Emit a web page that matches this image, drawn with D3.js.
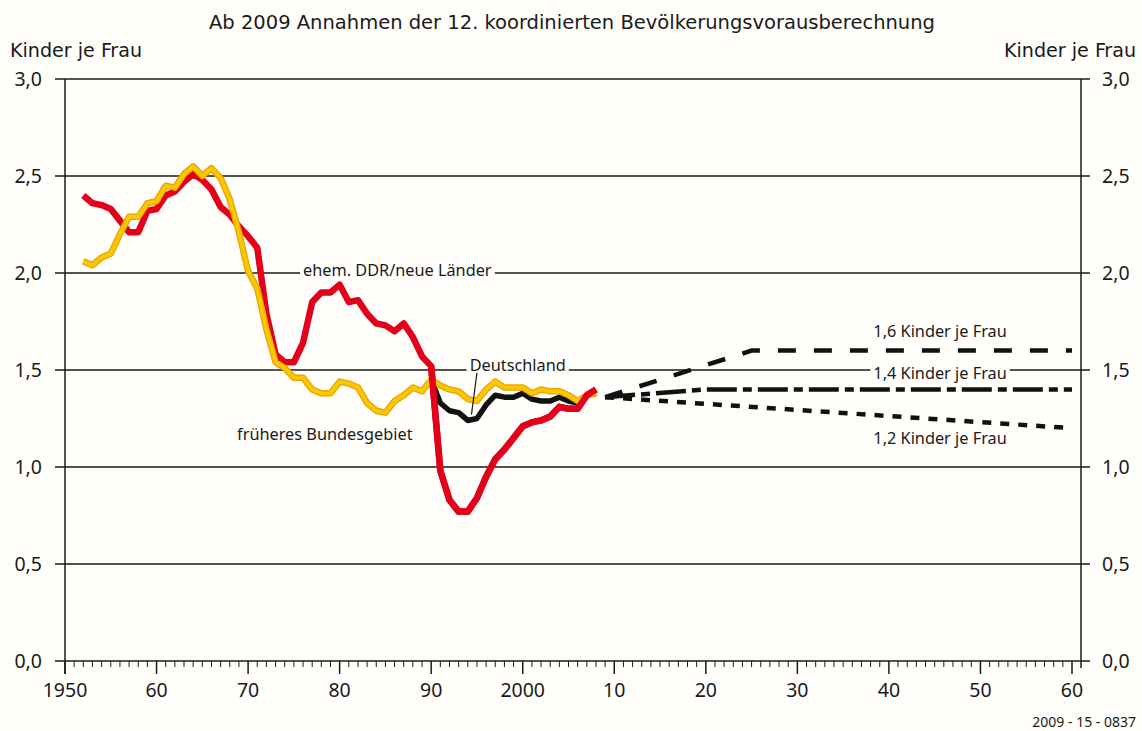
<!DOCTYPE html>
<html>
<head>
<meta charset="utf-8">
<script src="https://cdn.jsdelivr.net/npm/d3@7"></script>
<style>
  body { margin: 0; background: #fffefa; }
  svg { display: block; }
  text { font-family: "Noto Sans", sans-serif; fill: #1a1a1a; }
  .cond { font-family: "Liberation Sans Narrow", "DejaVu Sans Condensed", "Noto Sans", sans-serif; }
</style>
</head>
<body>
<svg id="chart" width="1142" height="731"></svg>
<script>
// years 1952..2008
const years = [1952, 1953, 1954, 1955, 1956, 1957, 1958, 1959, 1960, 1961, 1962, 1963, 1964, 1965,
  1966, 1967, 1968, 1969, 1970, 1971, 1972, 1973, 1974, 1975, 1976, 1977, 1978, 1979, 1980,
  1981, 1982, 1983, 1984, 1985, 1986, 1987, 1988, 1989, 1990, 1991, 1992, 1993, 1994, 1995,
  1996, 1997, 1998, 1999, 2000, 2001, 2002, 2003, 2004, 2005, 2006, 2007, 2008];

// ehem. DDR / neue Länder
const eastValues = [2.40, 2.36, 2.35, 2.33, 2.27, 2.21, 2.21, 2.32, 2.33, 2.40, 2.42, 2.47, 2.51, 2.48,
  2.43, 2.34, 2.30, 2.24, 2.19, 2.13, 1.79, 1.58, 1.54, 1.54, 1.64, 1.85, 1.90, 1.90, 1.94,
  1.85, 1.86, 1.79, 1.74, 1.73, 1.70, 1.74, 1.67, 1.57, 1.52, 0.98, 0.83, 0.77, 0.77, 0.84,
  0.95, 1.04, 1.09, 1.15, 1.21, 1.23, 1.24, 1.26, 1.31, 1.30, 1.30, 1.37, 1.40];

// früheres Bundesgebiet
const westValues = [2.06, 2.04, 2.08, 2.10, 2.20, 2.29, 2.29, 2.36, 2.37, 2.45, 2.44, 2.51, 2.55, 2.50,
  2.54, 2.49, 2.38, 2.21, 2.01, 1.92, 1.71, 1.54, 1.51, 1.46, 1.46, 1.40, 1.38, 1.38, 1.44,
  1.43, 1.41, 1.33, 1.29, 1.28, 1.34, 1.37, 1.41, 1.39, 1.45, 1.42, 1.40, 1.39, 1.35, 1.34,
  1.40, 1.44, 1.41, 1.41, 1.41, 1.38, 1.40, 1.39, 1.39, 1.37, 1.34, 1.37, 1.38];

// Deutschland
const germanyYears = [1990, 1991, 1992, 1993, 1994, 1995, 1996, 1997, 1998, 1999, 2000, 2001, 2002,
  2003, 2004, 2005, 2006, 2007, 2008];
const germanyValues = [1.45, 1.33, 1.29, 1.28, 1.24, 1.25, 1.32, 1.37, 1.36, 1.36, 1.38, 1.35, 1.34,
  1.34, 1.36, 1.34, 1.33, 1.37, 1.38];

// Annahmen ab 2009
const proj16Years = [2009, 2025, 2060];
const proj16Values = [1.36, 1.60, 1.60];
const proj14Years = [2009, 2020, 2060];
const proj14Values = [1.36, 1.40, 1.40];
const proj12Years = [2009, 2060];
const proj12Values = [1.36, 1.20];

const yTicks = [0, 0.5, 1, 1.5, 2, 2.5, 3];
const yTickLabels = ["0,0", "0,5", "1,0", "1,5", "2,0", "2,5", "3,0"];
const xTickYears = [1950, 1960, 1970, 1980, 1990, 2000, 2010, 2020, 2030, 2040, 2050, 2060];
const xTickLabels = ["1950", "60", "70", "80", "90", "2000", "10", "20", "30", "40", "50", "60"];

const svg = d3.select("#chart");
const bg = "#fffefa";
svg.append("rect").attr("width", 1142).attr("height", 731).attr("fill", bg);

const x = d3.scaleLinear().domain([1950, 2060]).range([65, 1072]);
const y = d3.scaleLinear().domain([0, 3]).range([661, 79]);

const zip = (xs, vs) => xs.map((yr, i) => ({ year: yr, value: vs[i] }));
const line = d3.line().x((d) => x(d.year)).y((d) => y(d.value));

// Title + axis titles
svg.append("text")
  .attr("class", "cond")
  .attr("x", 209).attr("y", 29)
  .attr("font-size", 19)
  .attr("textLength", 726).attr("lengthAdjust", "spacingAndGlyphs")
  .text("Ab 2009 Annahmen der 12. koordinierten Bevölkerungsvorausberechnung");

svg.append("text").attr("class", "cond")
  .attr("x", 10).attr("y", 57).attr("font-size", 19)
  .attr("textLength", 132).attr("lengthAdjust", "spacingAndGlyphs")
  .text("Kinder je Frau");
svg.append("text").attr("class", "cond")
  .attr("x", 1004).attr("y", 57).attr("font-size", 19)
  .attr("textLength", 132).attr("lengthAdjust", "spacingAndGlyphs")
  .text("Kinder je Frau");

// Horizontal grid lines + y labels
const grid = svg.append("g");
grid.selectAll("line").data(yTicks).enter().append("line")
  .attr("x1", 55).attr("x2", 1090)
  .attr("y1", (d) => y(d)).attr("y2", (d) => y(d))
  .attr("stroke", "#1a1a1a").attr("stroke-width", 1.3);

yTicks.forEach((t, i) => {
  svg.append("text").attr("x", 42).attr("y", y(t)).attr("dy", "0.35em")
    .attr("text-anchor", "end").attr("font-size", 19.5).text(yTickLabels[i]);
  svg.append("text").attr("x", 1102).attr("y", y(t)).attr("dy", "0.35em")
    .attr("text-anchor", "start").attr("font-size", 19.5).text(yTickLabels[i]);
});

// Vertical axes
svg.append("line").attr("x1", x(1950)).attr("x2", x(1950))
  .attr("y1", y(3)).attr("y2", y(0) + 13)
  .attr("stroke", "#1a1a1a").attr("stroke-width", 1.5);
svg.append("line").attr("x1", 1081).attr("x2", 1081)
  .attr("y1", y(3)).attr("y2", y(0) + 7)
  .attr("stroke", "#1a1a1a").attr("stroke-width", 1.5);

// x ticks: minor yearly, major every decade
const minor = d3.range(1950, 2061);
svg.append("g").selectAll("line").data(minor).enter().append("line")
  .attr("x1", (d) => x(d)).attr("x2", (d) => x(d))
  .attr("y1", y(0)).attr("y2", (d) => y(0) + (d % 10 === 0 ? 13 : 6))
  .attr("stroke", "#1a1a1a").attr("stroke-width", (d) => (d % 10 === 0 ? 1.5 : 1));

xTickYears.forEach((yr, i) => {
  svg.append("text").attr("x", x(yr)).attr("y", 697)
    .attr("text-anchor", "middle").attr("font-size", 19.5).text(xTickLabels[i]);
});

// Labels that break a grid line get a background patch
function label(txt, yr, val, dy, onGrid) {
  const t = svg.append("text")
    .attr("x", x(yr)).attr("y", y(val)).attr("dy", dy)
    .attr("font-size", 16.3).text(txt);
  if (onGrid) {
    const b = t.node().getBBox();
    svg.insert("rect", () => t.node())
      .attr("x", b.x - 3).attr("y", b.y + 2).attr("width", b.width + 6).attr("height", b.height - 4)
      .attr("fill", bg);
  }
  return t;
}

// Data lines
const east = zip(years, eastValues);
const west = zip(years, westValues);
const germany = zip(germanyYears, germanyValues);

svg.append("path").datum(east).attr("d", line)
  .attr("fill", "none").attr("stroke", "#e2001a").attr("stroke-width", 6.5)
  .attr("stroke-linejoin", "round");
svg.append("path").datum(germany).attr("d", line)
  .attr("fill", "none").attr("stroke", "#111").attr("stroke-width", 5.5)
  .attr("stroke-linejoin", "round");
svg.append("path").datum(west).attr("d", line)
  .attr("fill", "none").attr("stroke", "#eba200").attr("stroke-width", 6.5)
  .attr("stroke-linejoin", "round");
svg.append("path").datum(west).attr("d", line)
  .attr("fill", "none").attr("stroke", "#f8c800").attr("stroke-width", 4)
  .attr("stroke-linejoin", "round");
// red after reunification drawn on top
svg.append("path").datum(east.filter((d) => d.year >= 1990)).attr("d", line)
  .attr("fill", "none").attr("stroke", "#e2001a").attr("stroke-width", 6.5)
  .attr("stroke-linejoin", "round");

// Projections
const proj = [
  { data: zip(proj16Years, proj16Values), dash: "18 18" },
  { data: zip(proj14Years, proj14Values), dash: "30 6 9 6" },
  { data: zip(proj12Years, proj12Values), dash: "9 9" },
];
proj.forEach((p) => {
  svg.append("path").datum(p.data).attr("d", line)
    .attr("fill", "none").attr("stroke", "#111").attr("stroke-width", 4.5)
    .attr("stroke-dasharray", p.dash);
});

// Annotations
label("ehem. DDR/neue Länder", 1976, 2.0, "0.2em", true);
label("Deutschland", 1994.2, 1.5, "0.05em", true);
svg.append("line")
  .attr("x1", x(1995)).attr("y1", y(1.485))
  .attr("x2", x(1994.4)).attr("y2", y(1.27))
  .attr("stroke", "#1a1a1a").attr("stroke-width", 1.2);
label("früheres Bundesgebiet", 1968.8, 1.14, "0", false);
label("1,6 Kinder je Frau", 2038.3, 1.67, "0", false);
label("1,4 Kinder je Frau", 2038.3, 1.5, "0.55em", true);
label("1,2 Kinder je Frau", 2038.3, 1.12, "0", false);

svg.append("text").attr("x", 1136).attr("y", 727)
  .attr("text-anchor", "end").attr("font-size", 14).text("2009 - 15 - 0837");
</script>
</body>
</html>
